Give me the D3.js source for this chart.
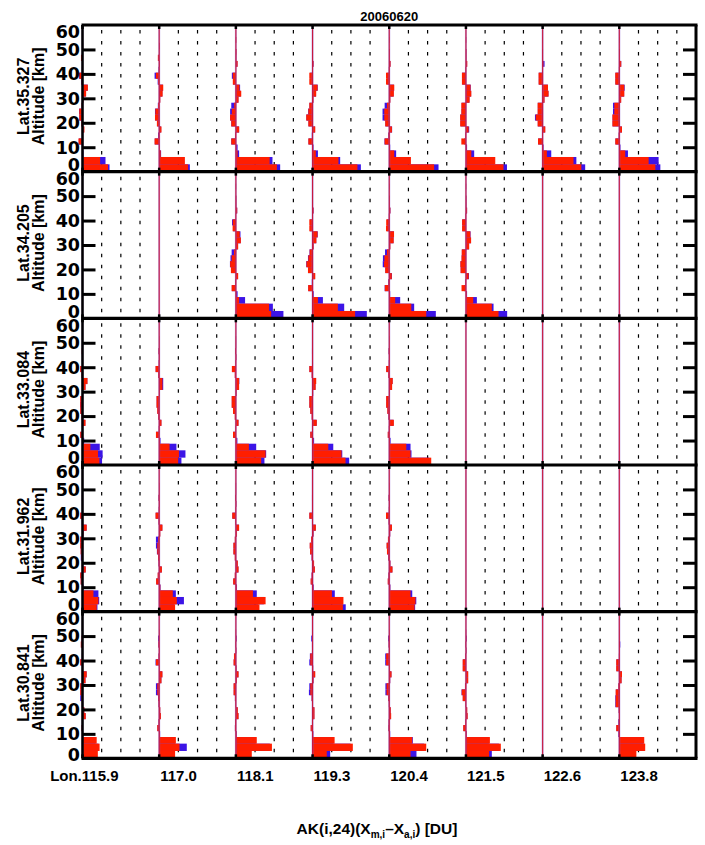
<!DOCTYPE html>
<html><head><meta charset="utf-8">
<script src="https://cdn.jsdelivr.net/npm/d3@7"></script>
<style>body{margin:0;background:#fff}</style>
</head><body>
<svg id="chart" width="705" height="845"></svg>
<script>
// ---------------- DATA ----------------
const chartTitle = "20060620";
const lats = ["35.327", "34.205", "33.084", "31.962", "30.841"];
const lons = ["115.9", "117.0", "118.1", "119.3", "120.4", "121.5", "122.6", "123.8"];
const altTicks = [0, 10, 20, 30, 40, 50, 60];
// retrieval layer edges (km), 24 layers
const layerEdges = [0, 3, 6, 8.7, 11.1, 13.6, 16.0, 18.5, 20.9, 23.4, 25.8, 28.2, 30.7, 33.1, 35.6, 38.0, 40.5, 42.9, 45.3, 47.8, 50.2, 52.7, 55.1, 57.6, 60];

// red series (one profile per longitude column, null = no data)
const redRow1 = [
  [1.33, 0.92, 0.03, 0.01, -0.21, -0.02, 0.10, -0.06, -0.17, -0.17, -0.05, 0.05, 0.19, 0.28, -0.05, -0.17, -0.03, 0.02, -0.08, 0.01, 0.03, 0, 0, 0],
  [1.51, 1.34, 0.08, 0.02, -0.24, -0.03, 0.12, -0.12, -0.22, -0.20, -0.06, 0.06, 0.18, 0.21, -0.06, -0.17, -0.02, 0.03, -0.07, 0.01, 0.02, 0, 0, 0],
  [2.14, 1.76, 0.09, 0.02, -0.24, -0.04, 0.17, -0.24, -0.30, -0.21, -0.09, 0.14, 0.28, 0.19, -0.16, -0.16, 0.00, 0.09, 0.02, 0.03, 0, 0.02, 0, 0],
  [2.34, 1.35, 0.17, 0.03, -0.22, -0.03, 0.14, -0.22, -0.33, -0.22, -0.17, 0.05, 0.19, 0.26, -0.17, -0.17, -0.01, 0.05, 0.01, 0.02, 0, 0.01, 0, 0],
  [2.34, 1.13, 0.26, 0.03, -0.24, -0.04, 0.14, -0.21, -0.26, -0.26, -0.12, 0.06, 0.24, 0.26, -0.17, -0.17, -0.02, 0.07, 0.02, 0.02, 0, 0.01, 0, 0],
  [1.96, 1.53, 0.28, 0.03, -0.24, -0.03, 0.14, -0.30, -0.30, -0.24, -0.24, 0.19, 0.28, 0.24, -0.21, -0.21, -0.02, 0.07, 0.02, 0.02, 0, 0.01, 0, 0],
  [2.02, 1.61, 0.22, 0.03, -0.24, -0.03, 0.14, -0.26, -0.36, -0.26, -0.26, 0.10, 0.31, 0.28, -0.21, -0.21, -0.02, 0.04, 0.02, 0.02, 0, 0.01, 0, 0],
  [1.88, 1.53, 0.31, 0.04, -0.21, -0.03, 0.14, -0.36, -0.36, -0.26, -0.26, 0.10, 0.26, 0.26, -0.21, -0.21, -0.02, 0.10, 0.02, 0.02, 0, 0.01, 0, 0]
];
const redRow2 = [
  null, null,
  [1.84, 1.73, 0.17, 0.02, -0.22, -0.03, 0.12, -0.26, -0.30, -0.22, -0.10, 0.12, 0.26, 0.20, -0.17, -0.16, -0.01, 0.07, 0.02, 0.02, 0, 0.01, 0, 0],
  [2.22, 1.32, 0.28, 0.03, -0.23, -0.03, 0.14, -0.24, -0.32, -0.22, -0.15, 0.06, 0.20, 0.26, -0.17, -0.17, -0.01, 0.05, 0.01, 0.02, 0, 0.01, 0, 0],
  [1.93, 1.15, 0.31, 0.03, -0.23, -0.04, 0.13, -0.21, -0.27, -0.25, -0.12, 0.06, 0.23, 0.25, -0.17, -0.16, -0.02, 0.06, 0.02, 0.02, 0, 0.01, 0, 0],
  [1.70, 1.35, 0.38, 0.04, -0.23, -0.03, 0.14, -0.28, -0.29, -0.23, -0.22, 0.17, 0.27, 0.23, -0.20, -0.20, -0.02, 0.06, 0.02, 0.02, 0, 0.01, 0, 0],
  null, null
];
const redRow3 = [
  [0.88, 0.81, 0.41, 0.03, -0.12, -0.02, 0.16, -0.05, -0.12, -0.12, -0.12, 0.02, 0.16, 0.26, -0.05, -0.12, -0.02, 0.02, -0.04, 0.01, 0.01, 0, 0, 0],
  [0.99, 1.03, 0.54, 0.03, -0.17, -0.02, 0.12, -0.05, -0.10, -0.14, -0.14, 0.03, 0.17, 0.17, -0.05, -0.19, -0.02, 0.02, -0.03, 0.01, 0.01, 0, 0, 0],
  [1.32, 1.55, 0.68, 0.04, -0.15, -0.02, 0.14, -0.06, -0.15, -0.22, -0.22, 0.03, 0.17, 0.17, -0.06, -0.21, -0.02, 0.02, -0.03, 0.01, 0.01, 0, 0, 0],
  [1.72, 1.51, 0.82, 0.04, -0.12, -0.02, 0.22, -0.05, -0.12, -0.17, -0.17, 0.03, 0.16, 0.19, -0.05, -0.17, -0.02, 0.02, -0.03, 0.01, 0.01, 0, 0, 0],
  [2.19, 1.11, 0.89, 0.04, -0.08, -0.02, 0.24, -0.04, -0.10, -0.16, -0.16, 0.03, 0.15, 0.18, -0.05, -0.16, -0.02, 0.02, -0.03, 0.01, 0.01, 0, 0, 0],
  null, null, null
];
const redRow4 = [
  [0.74, 0.83, 0.57, 0.03, -0.10, -0.12, 0.17, -0.03, -0.06, -0.10, -0.12, -0.12, 0.05, 0.22, -0.03, -0.12, -0.02, 0.02, -0.03, 0.01, 0.01, 0, 0, 0],
  [0.83, 0.92, 0.71, 0.06, -0.16, -0.08, 0.14, -0.03, -0.06, -0.10, -0.10, -0.06, 0.06, 0.17, -0.03, -0.19, -0.02, 0.02, -0.03, 0.01, 0.01, 0, 0, 0],
  [1.23, 1.55, 0.89, 0.04, -0.14, -0.06, 0.14, 0.10, -0.06, -0.13, -0.13, -0.06, 0.06, 0.17, -0.03, -0.19, -0.02, 0.02, -0.03, 0.01, 0.01, 0, 0, 0],
  [1.58, 1.61, 1.01, 0.04, -0.10, -0.05, 0.12, 0.08, -0.05, -0.13, -0.15, -0.08, 0.05, 0.17, -0.03, -0.17, -0.02, 0.02, -0.03, 0.01, 0.01, 0, 0, 0],
  [1.32, 1.37, 1.11, 0.05, -0.08, -0.04, 0.17, 0.06, -0.05, -0.12, -0.14, -0.07, 0.05, 0.14, -0.03, -0.17, -0.02, 0.02, -0.03, 0.01, 0.01, 0, 0, 0],
  null, null, null
];
const redRow5 = [
  [0.80, 0.89, 0.74, 0.02, -0.05, -0.02, 0.17, 0.10, -0.03, -0.06, -0.12, -0.12, 0.16, 0.22, 0.02, -0.12, -0.03, 0.02, -0.09, -0.05, 0.01, 0, 0, 0],
  [0.83, 1.06, 0.87, 0.02, -0.10, -0.03, 0.09, 0.06, -0.03, -0.05, -0.10, -0.10, 0.12, 0.17, 0.02, -0.17, -0.03, 0.02, -0.04, -0.02, 0.01, 0, 0, 0],
  [0.83, 1.88, 1.09, 0.03, -0.05, -0.04, 0.14, 0.10, -0.02, -0.05, -0.12, -0.12, 0.05, 0.14, 0.03, -0.12, -0.10, 0.02, -0.02, 0.02, 0.01, 0, 0, 0],
  [0.74, 2.10, 1.15, 0.03, -0.10, -0.03, 0.10, 0.10, -0.02, -0.05, -0.12, -0.12, 0.05, 0.14, 0.03, -0.12, -0.12, 0.02, -0.03, -0.03, 0.01, 0, 0, 0],
  [1.11, 1.93, 1.20, 0.03, -0.04, -0.03, 0.10, 0.08, -0.02, -0.05, -0.14, -0.14, 0.05, 0.12, 0.03, -0.16, -0.16, 0.02, -0.03, -0.03, 0.01, 0, 0, 0],
  [1.21, 1.82, 1.25, 0.03, -0.14, -0.03, 0.09, 0.07, -0.02, -0.17, -0.22, -0.05, 0.12, 0.12, -0.17, -0.17, -0.03, 0.02, -0.02, 0.02, 0.01, 0, 0, 0],
  null,
  [0.89, 1.35, 1.30, -0.03, -0.16, -0.03, 0.02, -0.03, -0.19, -0.19, -0.19, -0.05, 0.12, 0.14, -0.16, -0.16, -0.02, 0.02, 0.03, 0.01, 0.01, 0, 0, 0]
];

// blue series
const blueRow1 = [
  [1.41, 1.20, 0.05, 0.02, -0.19, -0.02, 0.08, -0.05, -0.16, -0.18, -0.04, 0.04, 0.17, 0.27, -0.06, -0.19, -0.03, 0.02, -0.07, 0.01, 0.02, 0, 0, 0],
  [1.60, 1.30, 0.10, 0.03, -0.23, -0.06, 0.10, -0.10, -0.21, -0.22, -0.07, 0.05, 0.16, 0.20, -0.08, -0.24, -0.03, 0.02, -0.06, 0.01, 0.02, 0, 0, 0],
  [2.31, 1.91, 0.17, 0.09, -0.24, -0.04, 0.17, -0.24, -0.30, -0.30, -0.24, 0.13, 0.26, 0.22, -0.15, -0.21, 0.00, 0.08, 0.02, 0.02, 0, 0.01, 0, 0],
  [2.52, 1.44, 0.28, 0.05, -0.21, -0.04, 0.13, -0.21, -0.32, -0.23, -0.16, 0.04, 0.18, 0.27, -0.12, -0.12, -0.02, 0.05, 0.02, 0.02, 0, 0.01, 0, 0],
  [2.57, 1.09, 0.36, 0.05, -0.25, -0.05, 0.15, -0.20, -0.35, -0.35, -0.24, 0.05, 0.22, 0.25, -0.10, -0.10, -0.02, 0.06, 0.02, 0.02, 0, 0.01, 0, 0],
  [2.14, 1.46, 0.43, 0.06, -0.09, -0.03, 0.17, -0.28, -0.29, -0.23, -0.22, 0.18, 0.27, 0.25, -0.19, -0.20, -0.02, 0.06, 0.02, 0.02, 0, 0.01, 0, 0],
  [2.22, 1.76, 0.45, 0.05, -0.23, -0.03, 0.13, -0.25, -0.40, -0.25, -0.25, 0.09, 0.30, 0.27, -0.20, -0.20, -0.02, 0.10, 0.02, 0.02, 0, 0.01, 0, 0],
  [2.14, 2.05, 0.45, 0.06, -0.20, -0.03, 0.13, -0.35, -0.35, -0.33, -0.33, 0.09, 0.25, 0.28, -0.20, -0.20, -0.02, 0.10, 0.02, 0.02, 0, 0.01, 0, 0]
];
const blueRow2 = [
  null, null,
  [2.48, 1.93, 0.48, 0.09, -0.21, -0.03, 0.11, -0.25, -0.31, -0.28, -0.22, 0.11, 0.25, 0.24, -0.15, -0.20, -0.01, 0.07, 0.02, 0.02, 0, 0.01, 0, 0],
  [2.83, 1.65, 0.54, 0.06, -0.22, -0.04, 0.13, -0.23, -0.33, -0.24, -0.16, 0.05, 0.19, 0.27, -0.13, -0.13, -0.02, 0.05, 0.02, 0.02, 0, 0.01, 0, 0],
  [2.43, 1.30, 0.57, 0.05, -0.24, -0.05, 0.14, -0.20, -0.34, -0.33, -0.22, 0.05, 0.22, 0.24, -0.11, -0.11, -0.02, 0.06, 0.02, 0.02, 0, 0.01, 0, 0],
  [2.15, 1.44, 0.57, 0.06, -0.10, -0.03, 0.16, -0.27, -0.28, -0.22, -0.21, 0.16, 0.26, 0.24, -0.18, -0.19, -0.02, 0.06, 0.02, 0.02, 0, 0.01, 0, 0],
  null, null
];
const blueRow3 = [
  [1.02, 1.05, 0.90, 0.09, -0.11, -0.02, 0.14, -0.04, -0.11, -0.13, -0.11, 0.02, 0.15, 0.25, -0.04, -0.11, -0.02, 0.02, -0.03, 0.01, 0.01, 0, 0, 0],
  [1.16, 1.37, 0.90, 0.07, -0.16, -0.02, 0.11, -0.04, -0.09, -0.13, -0.13, 0.03, 0.21, 0.21, -0.05, -0.18, -0.02, 0.02, -0.03, 0.01, 0.01, 0, 0, 0],
  [1.49, 1.58, 1.06, 0.08, -0.14, -0.02, 0.13, -0.05, -0.14, -0.21, -0.21, 0.03, 0.16, 0.18, -0.05, -0.20, -0.02, 0.02, -0.03, 0.01, 0.01, 0, 0, 0],
  [1.91, 1.55, 1.08, 0.08, -0.11, -0.02, 0.21, -0.04, -0.11, -0.16, -0.16, 0.03, 0.15, 0.18, -0.04, -0.16, -0.02, 0.02, -0.03, 0.01, 0.01, 0, 0, 0],
  [2.08, 1.16, 1.11, 0.07, -0.07, -0.02, 0.22, -0.04, -0.09, -0.15, -0.15, 0.03, 0.14, 0.17, -0.04, -0.15, -0.02, 0.02, -0.03, 0.01, 0.01, 0, 0, 0],
  null, null, null
];
const blueRow4 = [
  [0.78, 0.87, 0.83, 0.05, -0.09, -0.11, 0.16, -0.03, -0.09, -0.09, -0.11, -0.11, 0.05, 0.21, -0.03, -0.11, -0.02, 0.02, -0.03, 0.01, 0.01, 0, 0, 0],
  [0.78, 1.29, 0.87, 0.07, -0.15, -0.07, 0.13, -0.03, -0.06, -0.12, -0.17, -0.17, 0.05, 0.16, -0.03, -0.18, -0.02, 0.02, -0.03, 0.01, 0.01, 0, 0, 0],
  [1.15, 1.46, 1.09, 0.06, -0.13, -0.05, 0.13, 0.09, -0.05, -0.12, -0.12, -0.05, 0.05, 0.16, -0.03, -0.18, -0.02, 0.02, -0.03, 0.01, 0.01, 0, 0, 0],
  [1.73, 1.51, 1.16, 0.06, -0.09, -0.05, 0.11, 0.07, -0.05, -0.12, -0.14, -0.07, 0.05, 0.16, -0.03, -0.16, -0.02, 0.02, -0.03, 0.01, 0.01, 0, 0, 0],
  [1.35, 1.41, 1.20, 0.06, -0.07, -0.04, 0.16, 0.06, -0.05, -0.11, -0.13, -0.06, 0.05, 0.13, -0.03, -0.16, -0.02, 0.02, -0.03, 0.01, 0.01, 0, 0, 0],
  null, null, null
];
const blueRow5 = [
  [0.73, 0.83, 0.68, 0.03, -0.04, -0.02, 0.16, 0.09, -0.03, -0.12, -0.11, -0.11, 0.15, 0.21, 0.02, -0.11, -0.03, 0.02, -0.08, -0.04, 0.01, 0, 0, 0],
  [0.78, 1.44, 0.83, 0.05, -0.09, -0.03, 0.08, 0.05, -0.03, -0.06, -0.17, -0.17, 0.11, 0.16, 0.02, -0.19, -0.03, 0.02, -0.04, -0.06, 0.01, 0, 0, 0],
  [0.78, 1.77, 1.04, 0.04, -0.05, -0.04, 0.13, 0.09, -0.02, -0.05, -0.11, -0.11, 0.05, 0.13, 0.03, -0.11, -0.09, 0.02, -0.02, 0.04, 0.01, 0, 0, 0],
  [0.92, 1.98, 1.09, 0.04, -0.09, -0.03, 0.09, 0.09, -0.02, -0.05, -0.19, -0.17, 0.05, 0.13, 0.03, -0.17, -0.14, 0.02, -0.03, -0.07, 0.01, 0, 0, 0],
  [1.42, 1.82, 1.23, 0.05, -0.04, -0.03, 0.09, 0.07, -0.02, -0.05, -0.20, -0.20, 0.05, 0.11, 0.03, -0.21, -0.21, 0.02, -0.03, -0.06, 0.01, 0, 0, 0],
  [1.35, 1.72, 1.20, 0.04, -0.13, -0.03, 0.08, 0.06, -0.02, -0.16, -0.23, -0.05, 0.11, 0.11, -0.16, -0.16, -0.03, 0.02, -0.02, 0.04, 0.01, 0, 0, 0],
  null,
  [0.83, 1.30, 1.25, -0.05, -0.15, -0.05, 0.02, -0.03, -0.21, -0.21, -0.18, -0.05, 0.11, 0.13, -0.15, -0.15, -0.02, 0.02, 0.05, 0.01, 0.01, 0, 0, 0]
];

const redRows = [redRow1, redRow2, redRow3, redRow4, redRow5];
const blueRows = [blueRow1, blueRow2, blueRow3, blueRow4, blueRow5];

// ---------------- DRAWING ----------------
const RED = "#ff1e00", BLUE = "#3c14e6";
const svg = d3.select("#chart");
const X0 = 82.5, X1 = 696, Y0 = 25, Y1 = 758.3;
const rowBand = d3.scaleBand().domain(d3.range(lats.length)).range([Y0, Y1]);
const colBand = d3.scaleBand().domain(d3.range(lons.length)).range([X0, X1]);
const colDomain = [0, 4];          // value units spanned by one column
const gridVals = [1, 2, 3];
const FONT = "'Liberation Sans', Arial, sans-serif";
const NUMFONT = "'DejaVu Sans', sans-serif";

// title
svg.append("text").attr("x", (X0 + X1) / 2).attr("y", 21)
  .attr("text-anchor", "middle").attr("font-family", FONT).attr("font-weight", "bold")
  .attr("font-size", 13).text(chartTitle);

lats.forEach((lat, r) => {
  const top = rowBand(r), bot = top + rowBand.bandwidth();
  const y = d3.scaleLinear().domain([0, 60]).range([bot, top]);
  const g = svg.append("g");

  lons.forEach((lon, c) => {
    const x = d3.scaleLinear().domain(colDomain).range([colBand(c), colBand(c) + colBand.bandwidth()]);
    // dotted grid lines
    g.selectAll(null).data(gridVals).join("line")
      .attr("x1", d => x(d)).attr("x2", d => x(d))
      .attr("y1", top + 5).attr("y2", bot - 2)
      .attr("stroke", "#000").attr("stroke-width", 1.2).attr("stroke-dasharray", "3.5,7.5");

    const drawBars = (vals, color) => {
      if (!vals) return;
      const d = vals.map((v, i) => ({ v, lo: layerEdges[i], hi: layerEdges[i + 1] })).filter(o => o.v !== 0);
      g.selectAll(null).data(d).join("rect")
        .attr("x", o => x(Math.min(0, o.v)))
        .attr("width", o => Math.abs(x(o.v) - x(0)))
        .attr("y", o => y(o.hi))
        .attr("height", o => y(o.lo) - y(o.hi))
        .attr("fill", color);
    };
    drawBars(blueRows[r][c], BLUE);
    drawBars(redRows[r][c], RED);

    // zero line
    g.append("line").attr("x1", x(0)).attr("x2", x(0)).attr("y1", top).attr("y2", bot)
      .attr("stroke", "#8a5ad8").attr("stroke-width", 2).attr("stroke-opacity", 0.5);
    g.append("line").attr("x1", x(0)).attr("x2", x(0)).attr("y1", top).attr("y2", bot)
      .attr("stroke", "#c8183c").attr("stroke-width", 1.1);
    // small x ticks at top & bottom of the row
    g.append("line").attr("x1", x(0)).attr("x2", x(0)).attr("y1", top).attr("y2", top + 4)
      .attr("stroke", "#000").attr("stroke-width", 2.5);
    g.append("line").attr("x1", x(0)).attr("x2", x(0)).attr("y1", bot - 4).attr("y2", bot)
      .attr("stroke", "#000").attr("stroke-width", 2.5);
  });

  // left & right axes (major ticks)
  const inner = [10, 20, 30, 40, 50];
  g.append("g").attr("transform", `translate(${X0},0)`)
    .call(d3.axisLeft(y).tickValues(inner).tickSize(-13).tickFormat(""))
    .call(s => { s.select(".domain").remove(); s.selectAll("line").attr("stroke", "#000").attr("stroke-width", 3); });
  g.append("g").attr("transform", `translate(${X1},0)`)
    .call(d3.axisRight(y).tickValues(inner).tickSize(-13).tickFormat(""))
    .call(s => { s.select(".domain").remove(); s.selectAll("line").attr("stroke", "#000").attr("stroke-width", 3); });

  // tick labels
  altTicks.forEach(v => {
    let yy = y(v);
    if (v === 60) yy += 7;
    if (v === 0) yy -= (r === lats.length - 1 ? 4 : 7);
    svg.append("text").attr("x", 80).attr("y", yy).attr("dy", "0.36em")
      .attr("text-anchor", "end").attr("font-family", NUMFONT).attr("font-weight", "bold")
      .attr("font-size", 17.5).text(v);
  });

  // row labels
  const cy = (top + bot) / 2 - 2;
  svg.append("text").attr("transform", `translate(29,${cy}) rotate(-90)`)
    .attr("text-anchor", "middle").attr("font-family", FONT).attr("font-weight", "bold")
    .attr("font-size", 16).text("Lat." + lat);
  svg.append("text").attr("transform", `translate(44,${cy}) rotate(-90)`)
    .attr("text-anchor", "middle").attr("font-family", FONT).attr("font-weight", "bold")
    .attr("font-size", 16).text("Altitude [km]");
});

// frame: row separators & borders
const rowLines = d3.range(lats.length + 1).map(i => i < lats.length ? rowBand(i) : Y1);
svg.selectAll(null).data(rowLines).join("line")
  .attr("x1", X0 - 1).attr("x2", X1 + 1.5).attr("y1", d => d).attr("y2", d => d)
  .attr("stroke", "#000").attr("stroke-width", 3.2);
svg.append("line").attr("x1", X0).attr("x2", X0).attr("y1", Y0).attr("y2", Y1)
  .attr("stroke", "#000").attr("stroke-width", 2.5);
svg.append("line").attr("x1", X1).attr("x2", X1).attr("y1", Y0).attr("y2", Y1)
  .attr("stroke", "#000").attr("stroke-width", 3);

// longitude labels
lons.forEach((lon, c) => {
  const t = svg.append("text").attr("y", 781).attr("font-family", FONT).attr("font-weight", "bold")
    .attr("font-size", 15);
  if (c === 0) t.attr("x", colBand(c) + 36).attr("text-anchor", "end").text("Lon." + lon);
  else t.attr("x", colBand(c) + 1).attr("text-anchor", "start").text(lon);
});

// x-axis title
const xt = svg.append("text").attr("x", 377).attr("y", 834).attr("text-anchor", "middle")
  .attr("font-family", FONT).attr("font-weight", "bold").attr("font-size", 15.5);
xt.append("tspan").text("AK(i,24)(X");
xt.append("tspan").attr("font-size", 10).attr("dy", 4).text("m,i");
xt.append("tspan").attr("dy", -4).text("\u2013X");
xt.append("tspan").attr("font-size", 10).attr("dy", 4).text("a,i");
xt.append("tspan").attr("dy", -4).text(") [DU]");
</script>
</body></html>
